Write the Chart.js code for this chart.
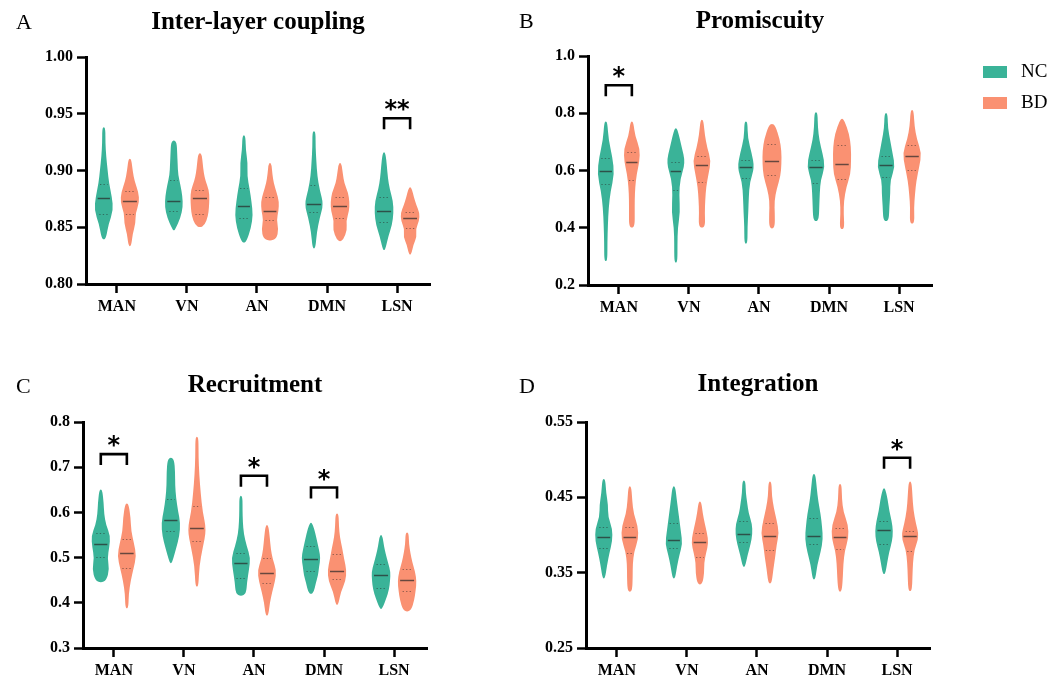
<!DOCTYPE html>
<html>
<head>
<meta charset="utf-8">
<title>Multilayer network measures, NC vs BD</title>
<script src="https://cdn.jsdelivr.net/npm/chart.js@4.4.1/dist/chart.umd.min.js"></script>
<style>
  html, body { margin: 0; padding: 0; background: #fff; }
  #wrap { position: relative; width: 1061px; height: 679px; overflow: hidden; }
  #wrap canvas { position: absolute; }
</style>
</head>
<body>
<div id="wrap">
  <canvas id="chartA" width="500" height="340" style="left:0;top:0"></canvas>
  <canvas id="chartB" width="561" height="340" style="left:500px;top:0"></canvas>
  <canvas id="chartC" width="500" height="339" style="left:0;top:340px"></canvas>
  <canvas id="chartD" width="561" height="339" style="left:500px;top:340px"></canvas>
</div>
<script>
const networks = ['MAN', 'VN', 'AN', 'DMN', 'LSN'];
const groupNames = ['NC', 'BD'];
const groupColors = ['#3ab398', '#fa9172'];

// each row: [min, q1, median, q3, max] for one network
// shape rows: relative violin width at 9 even steps from min to max

// Inter-layer coupling
const couplingNC = [
    [0.841, 0.862, 0.876, 0.888, 0.9365],
    [0.849, 0.8647, 0.873, 0.892, 0.9247],
    [0.8382, 0.858, 0.8688, 0.885, 0.9294],
    [0.833, 0.8638, 0.8706, 0.8868, 0.933],
    [0.8315, 0.855, 0.8647, 0.877, 0.9144]
];
const couplingBD = [
    [0.835, 0.862, 0.873, 0.882, 0.9088],
    [0.8518, 0.8615, 0.8758, 0.8832, 0.9136],
    [0.840, 0.8565, 0.8644, 0.877, 0.905],
    [0.8394, 0.858, 0.8688, 0.877, 0.905],
    [0.8276, 0.849, 0.858, 0.8635, 0.8835]
];
const couplingNCShape = [
    [0.25, 0.5, 1.0, 0.85, 0.55, 0.4, 0.25, 0.15, 0.08],
    [0.2, 0.7, 0.95, 0.9, 0.7, 0.45, 0.4, 0.35, 0.3],
    [0.3, 0.75, 0.95, 0.8, 0.6, 0.35, 0.4, 0.2, 0.1],
    [0.08, 0.3, 0.6, 1.0, 0.6, 0.35, 0.25, 0.15, 0.08],
    [0.15, 0.45, 0.85, 1.0, 0.95, 0.6, 0.4, 0.3, 0.15]
];
const couplingBDShape = [
    [0.15, 0.3, 0.6, 0.6, 1.0, 0.9, 0.5, 0.3, 0.15],
    [0.5, 0.85, 0.95, 1.0, 0.95, 0.6, 0.4, 0.3, 0.2],
    [0.7, 0.9, 0.7, 0.9, 0.95, 0.7, 0.4, 0.25, 0.15],
    [0.35, 0.75, 0.65, 0.95, 1.0, 0.85, 0.45, 0.3, 0.15],
    [0.15, 0.35, 0.7, 0.6, 0.95, 1.0, 0.65, 0.4, 0.2]
];
const couplingTicks = [0.80, 0.85, 0.90, 0.95, 1.00];
const couplingSig = [[4, '**', 0.946]];   // network, mark, bracket level

// Promiscuity
const promiscNC = [
    [0.290, 0.552, 0.598, 0.643, 0.765],
    [0.285, 0.531, 0.599, 0.629, 0.741],
    [0.351, 0.575, 0.613, 0.636, 0.765],
    [0.430, 0.555, 0.611, 0.636, 0.797],
    [0.430, 0.576, 0.619, 0.651, 0.794]
];
const promiscBD = [
    [0.407, 0.566, 0.629, 0.663, 0.765],
    [0.407, 0.561, 0.619, 0.649, 0.771],
    [0.404, 0.584, 0.632, 0.691, 0.756],
    [0.402, 0.572, 0.623, 0.690, 0.774],
    [0.421, 0.602, 0.649, 0.689, 0.805]
];
const promiscNCShape = [
    [0.08, 0.15, 0.22, 0.3, 0.5, 0.9, 0.7, 0.3, 0.1],
    [0.05, 0.1, 0.2, 0.45, 0.35, 0.45, 1.0, 0.6, 0.2],
    [0.08, 0.15, 0.25, 0.3, 0.4, 0.9, 0.6, 0.2, 0.1],
    [0.3, 0.35, 0.4, 0.5, 0.95, 0.7, 0.35, 0.2, 0.08],
    [0.3, 0.35, 0.45, 0.45, 0.95, 0.7, 0.45, 0.2, 0.08]
];
const promiscBDShape = [
    [0.3, 0.3, 0.3, 0.35, 0.5, 0.8, 0.85, 0.35, 0.12],
    [0.35, 0.3, 0.35, 0.45, 0.7, 0.95, 0.55, 0.3, 0.15],
    [0.3, 0.3, 0.25, 0.5, 0.9, 1.0, 1.0, 0.8, 0.35],
    [0.25, 0.15, 0.2, 0.45, 0.9, 0.95, 0.95, 0.75, 0.25],
    [0.25, 0.2, 0.3, 0.45, 0.75, 1.0, 0.5, 0.25, 0.08]
];
const promiscTicks = [0.2, 0.4, 0.6, 0.8, 1.0];
const promiscSig = [[0, '*', 0.898]];

// Recruitment
const recruitNC = [
    [0.4497, 0.5006, 0.530, 0.5544, 0.6466],
    [0.4917, 0.559, 0.584, 0.630, 0.7167],
    [0.420, 0.4556, 0.4873, 0.511, 0.6326],
    [0.4239, 0.4696, 0.4969, 0.525, 0.5729],
    [0.3907, 0.4327, 0.4615, 0.4866, 0.5456]
];
const recruitBD = [
    [0.392, 0.4777, 0.5094, 0.5419, 0.6156],
    [0.440, 0.5375, 0.5647, 0.615, 0.763],
    [0.376, 0.444, 0.466, 0.500, 0.5677],
    [0.3996, 0.452, 0.4696, 0.507, 0.5935],
    [0.385, 0.426, 0.4504, 0.4755, 0.5515]
];
const recruitNCShape = [
    [0.6, 0.9, 0.7, 0.9, 1.0, 0.55, 0.35, 0.3, 0.15],
    [0.15, 0.55, 0.9, 1.0, 0.75, 0.55, 0.45, 0.45, 0.35],
    [0.55, 0.65, 0.85, 1.0, 0.6, 0.3, 0.2, 0.12, 0.08],
    [0.3, 0.5, 0.75, 0.85, 1.0, 0.85, 0.65, 0.45, 0.2],
    [0.2, 0.55, 0.85, 0.95, 1.0, 0.75, 0.5, 0.3, 0.15]
];
const recruitBDShape = [
    [0.1, 0.2, 0.4, 0.7, 1.0, 0.75, 0.45, 0.4, 0.2],
    [0.1, 0.25, 0.6, 1.0, 0.6, 0.4, 0.25, 0.15, 0.08],
    [0.1, 0.3, 0.55, 0.85, 1.0, 0.6, 0.4, 0.3, 0.15],
    [0.15, 0.4, 0.9, 1.0, 0.75, 0.55, 0.3, 0.2, 0.1],
    [0.45, 0.75, 0.9, 1.0, 0.85, 0.55, 0.35, 0.2, 0.1]
];
const recruitTicks = [0.3, 0.4, 0.5, 0.6, 0.7, 0.8];
const recruitSig = [[0, '*', 0.729], [2, '*', 0.681], [3, '*', 0.655]];

// Integration
const integrNC = [
    [0.3448, 0.3823, 0.3973, 0.411, 0.4719],
    [0.3448, 0.3832, 0.3934, 0.4159, 0.4622],
    [0.3603, 0.3907, 0.4013, 0.418, 0.4697],
    [0.3435, 0.3885, 0.3991, 0.422, 0.4785],
    [0.3506, 0.3881, 0.4066, 0.419, 0.4595]
];
const integrBD = [
    [0.3272, 0.3757, 0.3973, 0.411, 0.4622],
    [0.3369, 0.3713, 0.3907, 0.4026, 0.4419],
    [0.3382, 0.3797, 0.3991, 0.4159, 0.4684],
    [0.3272, 0.3815, 0.3978, 0.4088, 0.4653],
    [0.3281, 0.3793, 0.3991, 0.4053, 0.4684]
];
const integrNCShape = [
    [0.15, 0.35, 0.6, 0.9, 0.9, 0.45, 0.45, 0.25, 0.1],
    [0.15, 0.35, 0.6, 0.9, 0.75, 0.6, 0.45, 0.3, 0.12],
    [0.15, 0.4, 0.7, 0.9, 0.85, 0.5, 0.35, 0.2, 0.08],
    [0.1, 0.35, 0.7, 0.95, 0.85, 0.7, 0.45, 0.3, 0.1],
    [0.15, 0.35, 0.55, 0.85, 0.95, 0.8, 0.55, 0.4, 0.15]
];
const integrBDShape = [
    [0.25, 0.3, 0.3, 0.45, 0.9, 0.85, 0.4, 0.25, 0.1],
    [0.3, 0.45, 0.45, 0.65, 0.9, 0.75, 0.5, 0.3, 0.15],
    [0.2, 0.35, 0.55, 0.7, 0.95, 0.7, 0.4, 0.2, 0.08],
    [0.2, 0.3, 0.35, 0.5, 0.9, 0.85, 0.35, 0.2, 0.1],
    [0.2, 0.25, 0.3, 0.45, 0.95, 0.6, 0.35, 0.25, 0.1]
];
const integrTicks = [0.25, 0.35, 0.45, 0.55];
const integrSig = [[4, '*', 0.5026]];


const SHIFT = 0.186;      // group offset from the network tick, in x units
const HALF_WIDTH = 9.5;   // px for a relative width of 1
const MIN_HALF = 1.6;     // keeps the thin tails visible

function widthAt(stat, shape, v) {
    const t = (v - stat[0]) / (stat[4] - stat[0]) * (shape.length - 1);
    const k = Math.max(0, Math.min(shape.length - 2, Math.floor(t)));
    const f = t - k;
    return shape[k] * (1 - f) + shape[k + 1] * f;
}

function smoothClosed(ctx, pts) {
    const n = pts.length;
    const mid = (a, b) => ({ x: (a.x + b.x) / 2, y: (a.y + b.y) / 2 });
    const start = mid(pts[n - 1], pts[0]);
    ctx.beginPath();
    ctx.moveTo(start.x, start.y);
    for (let i = 0; i < n; i++) {
        const p = pts[i];
        const m = mid(p, pts[(i + 1) % n]);
        ctx.quadraticCurveTo(p.x, p.y, m.x, m.y);
    }
    ctx.closePath();
}

function drawViolin(ctx, xs, ys, pos, stat, shape, color) {
    const [lo, q1, med, q3, hi] = stat;
    const cx = xs.getPixelForValue(pos);
    const n = shape.length;
    const right = [{ x: cx, y: ys.getPixelForValue(lo) + 2.5 }];
    shape.forEach((w, k) => {
        right.push({
            x: cx + Math.max(MIN_HALF, w * HALF_WIDTH),
            y: ys.getPixelForValue(lo + (hi - lo) * k / (n - 1))
        });
    });
    right.push({ x: cx, y: ys.getPixelForValue(hi) - 2.5 });
    const left = right.slice(1, -1).reverse().map(p => ({ x: 2 * cx - p.x, y: p.y }));

    ctx.fillStyle = color;
    smoothClosed(ctx, right.concat(left));
    ctx.fill();

    // median
    const ym = Math.round(ys.getPixelForValue(med)) + 0.5;
    const hm = Math.max(4, 0.75 * widthAt(stat, shape, med) * HALF_WIDTH);
    ctx.strokeStyle = 'rgba(40,40,40,0.7)';
    ctx.lineWidth = 1.5;
    ctx.setLineDash([]);
    ctx.beginPath();
    ctx.moveTo(cx - hm, ym);
    ctx.lineTo(cx + hm, ym);
    ctx.stroke();

    // quartiles
    ctx.strokeStyle = 'rgba(40,40,40,0.5)';
    ctx.lineWidth = 1.2;
    ctx.setLineDash([1.3, 2.2]);
    [q1, q3].forEach(q => {
        const yq = Math.round(ys.getPixelForValue(q)) + 0.5;
        const hq = Math.min(4.5, 0.7 * widthAt(stat, shape, q) * HALF_WIDTH);
        ctx.beginPath();
        ctx.moveTo(cx - hq, yq);
        ctx.lineTo(cx + hq, yq);
        ctx.stroke();
    });
    ctx.setLineDash([]);
}

const violinPlugin = {
    id: 'violins',
    afterDatasetsDraw(chart) {
        const ctx = chart.ctx;
        const xs = chart.scales.x, ys = chart.scales.y;
        ctx.save();
        chart.data.datasets.forEach(ds => {
            ds.stats.forEach((s, i) => drawViolin(ctx, xs, ys, i + ds.shift, s, ds.shape[i], ds.backgroundColor));
        });
        ctx.restore();
    },
    afterDraw(chart, args, opts) {
        const ctx = chart.ctx;
        const xs = chart.scales.x, ys = chart.scales.y;
        ctx.save();

        // panel letter
        ctx.fillStyle = '#000';
        ctx.font = '22px "Liberation Serif"';
        ctx.textAlign = 'left';
        ctx.textBaseline = 'alphabetic';
        ctx.fillText(opts.letter, opts.letterX, opts.letterY);

        // significance brackets
        ctx.strokeStyle = '#000';
        ctx.lineWidth = 2.6;
        ctx.lineJoin = 'miter';
        (opts.sig || []).forEach(([idx, mark, level]) => {
            const x1 = xs.getPixelForValue(idx - SHIFT);
            const x2 = xs.getPixelForValue(idx + SHIFT);
            const yt = ys.getPixelForValue(level);
            ctx.beginPath();
            ctx.moveTo(x1, yt + 11);
            ctx.lineTo(x1, yt);
            ctx.lineTo(x2, yt);
            ctx.lineTo(x2, yt + 11);
            ctx.stroke();
            ctx.font = 'bold 24px "DejaVu Sans"';
            ctx.textAlign = 'center';
            ctx.fillText(mark, (x1 + x2) / 2, yt - 1);
        });

        // group legend
        if (opts.legend) {
            ctx.font = '19px "Liberation Serif"';
            ctx.textAlign = 'left';
            ctx.textBaseline = 'middle';
            chart.data.datasets.forEach((ds, i) => {
                const y = opts.legend.y + i * opts.legend.gap;
                ctx.fillStyle = ds.backgroundColor;
                ctx.fillRect(opts.legend.x, y, 24, 12);
                ctx.fillStyle = '#000';
                ctx.fillText(ds.label, opts.legend.x + 38, y + 6.5);
            });
        }
        ctx.restore();
    }
};

function makePanel(id, p) {
    const axisFont = { family: 'Liberation Serif', size: 16, weight: 'bold' };
    const grid = { drawOnChartArea: false, drawTicks: true, tickLength: 9, tickWidth: 2.5, tickColor: '#000' };
    const datasets = [p.nc, p.bd].map((stats, g) => ({
        label: groupNames[g],
        data: stats.map((s, i) => ({ x: i + (g ? SHIFT : -SHIFT), y: s[2] })),
        stats: stats,
        shape: g ? p.bdShape : p.ncShape,
        shift: g ? SHIFT : -SHIFT,
        backgroundColor: groupColors[g],
        pointRadius: 0
    }));
    return new Chart(document.getElementById(id), {
        type: 'scatter',
        data: { datasets },
        plugins: [violinPlugin],
        options: {
            responsive: false,
            animation: false,
            layout: { padding: { top: 0, left: p.pad[0], right: p.pad[1], bottom: p.pad[2] } },
            scales: {
                x: {
                    type: 'linear',
                    min: -0.44,
                    max: 4.47,
                    afterBuildTicks: s => { s.ticks = networks.map((_, i) => ({ value: i })); },
                    afterFit: s => { s.height = 30; },
                    ticks: { callback: v => networks[v], font: axisFont, color: '#000', padding: 4, maxRotation: 0 },
                    grid: grid,
                    border: { display: true, color: '#000', width: 3 }
                },
                y: {
                    min: p.ticks[0],
                    max: p.ticks[p.ticks.length - 1],
                    afterBuildTicks: s => { s.ticks = p.ticks.map(v => ({ value: v })); },
                    afterFit: s => { s.width = 60; },
                    ticks: { callback: v => v.toFixed(p.decimals), font: axisFont, color: '#000', padding: 4 },
                    grid: grid,
                    border: { display: true, color: '#000', width: 3 }
                }
            },
            plugins: {
                legend: { display: false },
                tooltip: { enabled: false },
                title: {
                    display: true,
                    text: p.title,
                    fullSize: false,
                    color: '#000',
                    font: { family: 'Liberation Serif', size: 25, weight: 'bold' },
                    padding: { top: p.titlePad[0], bottom: p.titlePad[1] }
                },
                violins: {
                    letter: p.letter,
                    letterX: p.letterPos[0],
                    letterY: p.letterPos[1],
                    sig: p.sig,
                    legend: p.legend
                }
            }
        }
    });
}

makePanel('chartA', {
    title: 'Inter-layer coupling', letter: 'A', letterPos: [16, 29],
    nc: couplingNC, bd: couplingBD, ncShape: couplingNCShape, bdShape: couplingBDShape,
    ticks: couplingTicks, decimals: 2, sig: couplingSig,
    pad: [26, 70, 26], titlePad: [8, 19]
});
makePanel('chartB', {
    title: 'Promiscuity', letter: 'B', letterPos: [19, 28],
    nc: promiscNC, bd: promiscBD, ncShape: promiscNCShape, bdShape: promiscBDShape,
    ticks: promiscTicks, decimals: 1, sig: promiscSig,
    pad: [28, 129, 25], titlePad: [7, 19],
    legend: { x: 483, y: 66, gap: 31 }
});
makePanel('chartC', {
    title: 'Recruitment', letter: 'C', letterPos: [16, 53],
    nc: recruitNC, bd: recruitBD, ncShape: recruitNCShape, bdShape: recruitBDShape,
    ticks: recruitTicks, decimals: 1, sig: recruitSig,
    pad: [23, 73, 1], titlePad: [31, 21]
});
makePanel('chartD', {
    title: 'Integration', letter: 'D', letterPos: [19, 53],
    nc: integrNC, bd: integrBD, ncShape: integrNCShape, bdShape: integrBDShape,
    ticks: integrTicks, decimals: 2, sig: integrSig,
    pad: [26, 131, 1], titlePad: [30, 22]
});
</script>
</body>
</html>
